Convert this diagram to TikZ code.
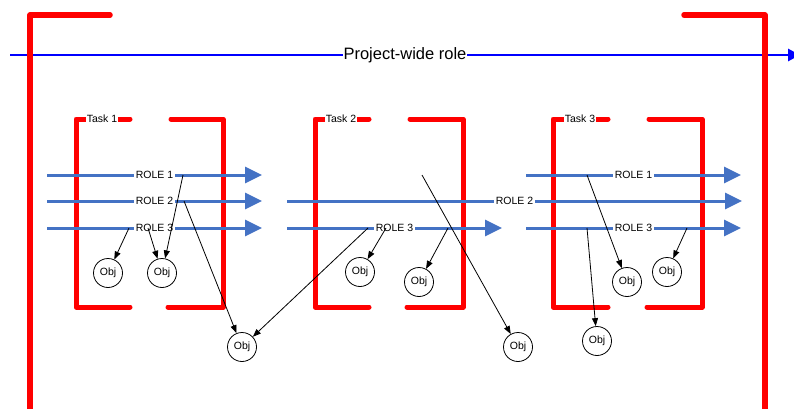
\documentclass[tikz,border=0pt]{standalone}
\usepackage{fontspec}
\setmainfont{Liberation Sans}
\usetikzlibrary{arrows.meta}
\definecolor{roleblue}{RGB}{68,114,196}
\tikzset{
  bigbracket/.style={draw=red, line width=5.5pt, line cap=round, line join=round},
  taskbracket/.style={draw=red, line width=5pt, line cap=round, line join=round},
  projline/.style={draw=blue, line width=2.8pt, -{Triangle[length=12pt,width=12pt]}},
  roleline/.style={draw=roleblue, line width=3pt, -{Triangle[length=17pt,width=16pt]}},
  lbl/.style={fill=white, inner xsep=2pt, inner ysep=1pt, font=\fontsize{10.5}{12}\selectfont},
  obj/.style={circle, draw, line width=0.8pt, minimum size=29pt, inner sep=0pt, fill=white, font=\fontsize{10.5}{12}\selectfont},
  link/.style={draw, line width=0.8pt, -{Triangle[length=8pt,width=6pt]}}
}
\begin{document}
\begin{tikzpicture}[x=1pt,y=-1pt]
\useasboundingbox (0,0) rectangle (794,409);
\clip (0,0) rectangle (794,409);

% project-wide role
\coordinate (pw0) at (10,55);
\coordinate (pw1) at (800,55);
\draw[projline] (pw0) -- (pw1);
\node[fill=white, inner xsep=1pt, inner ysep=1pt, font=\fontsize{16.5}{18}\selectfont] (pw) at (405,55) {Project-wide role};

% outer project brackets
\draw[bigbracket] (110,15) -- (30,15) -- (30,412.5) -- (90,412.5);
\draw[bigbracket] (684,15) -- (765,15) -- (765,412.5) -- (705,412.5);

% task brackets
\draw[taskbracket] (130,119) -- (76,119) -- (76,307) -- (130,307);
\draw[taskbracket] (171,119) -- (223,119) -- (223,307) -- (168,307);
\node[lbl, inner xsep=1pt, inner ysep=0.5pt] (t1) at (102,119) {Task 1};

\draw[taskbracket] (369,119) -- (315,119) -- (315,307) -- (369,307);
\draw[taskbracket] (410,119) -- (463,119) -- (463,307) -- (407,307);
\node[lbl, inner xsep=1pt, inner ysep=0.5pt] (t2) at (341,119) {Task 2};

\draw[taskbracket] (608,119) -- (553,119) -- (553,307) -- (608,307);
\draw[taskbracket] (649,119) -- (702,119) -- (702,307) -- (647,307);
\node[lbl, inner xsep=1pt, inner ysep=0.5pt] (t3) at (580,119) {Task 3};

% role lines
\coordinate (a1s) at (47,175);  \coordinate (a1e) at (262,175);
\coordinate (a2s) at (47,201);  \coordinate (a2e) at (262,201);
\coordinate (a3s) at (47,228);  \coordinate (a3e) at (262,228);
\coordinate (b2s) at (287,201); \coordinate (b2e) at (742,201);
\coordinate (b3s) at (287,228); \coordinate (b3e) at (502,228);
\coordinate (c1s) at (526,175); \coordinate (c1e) at (741,175);
\coordinate (c3s) at (526,228); \coordinate (c3e) at (741,228);

\draw[roleline] (a1s) -- node[lbl] (ra1) {ROLE 1} (a1e);
\draw[roleline] (a2s) -- node[lbl] (ra2) {ROLE 2} (a2e);
\draw[roleline] (a3s) -- node[lbl] (ra3) {ROLE 3} (a3e);
\draw[roleline] (b2s) -- node[lbl] (rb2) {ROLE 2} (b2e);
\draw[roleline] (b3s) -- node[lbl] (rb3) {ROLE 3} (b3e);
\draw[roleline] (c1s) -- node[lbl] (rc1) {ROLE 1} (c1e);
\draw[roleline] (c3s) -- node[lbl] (rc3) {ROLE 3} (c3e);

% objects
\node[obj] (oa) at (108,273) {Obj};
\node[obj] (ob) at (162,273) {Obj};
\node[obj] (oc) at (242,347) {Obj};
\node[obj] (od) at (360,272) {Obj};
\node[obj] (oe) at (419,282) {Obj};
\node[obj] (of) at (518,347) {Obj};
\node[obj] (og) at (627,282) {Obj};
\node[obj] (oh) at (667,272) {Obj};
\node[obj] (oi) at (597,341) {Obj};

% anchor points of the links
\coordinate (pa1) at (129,228);
\coordinate (pa2) at (148,228);
\coordinate (pa3) at (183,175);
\coordinate (pa4) at (184,201);
\coordinate (pb1) at (368,228);
\coordinate (pb2) at (386,228);
\coordinate (pb3) at (448,228);
\coordinate (pb4) at (422,175);
\coordinate (pc1) at (587,175);
\coordinate (pc2) at (687,228);
\coordinate (pc3) at (587,228);

% links from roles to objects
\draw[link] (pa1) -- (oa);
\draw[link] (pa2) -- (ob);
\draw[link] (pa3) -- (ob);
\draw[link] (pa4) -- (oc);
\draw[link] (pb1) -- (oc);
\draw[link] (pb2) -- (od);
\draw[link] (pb3) -- (oe);
\draw[link] (pb4) -- (of);
\draw[link] (pc1) -- (og);
\draw[link] (pc2) -- (oh);
\draw[link] (pc3) -- (oi);
\end{tikzpicture}
\end{document}
